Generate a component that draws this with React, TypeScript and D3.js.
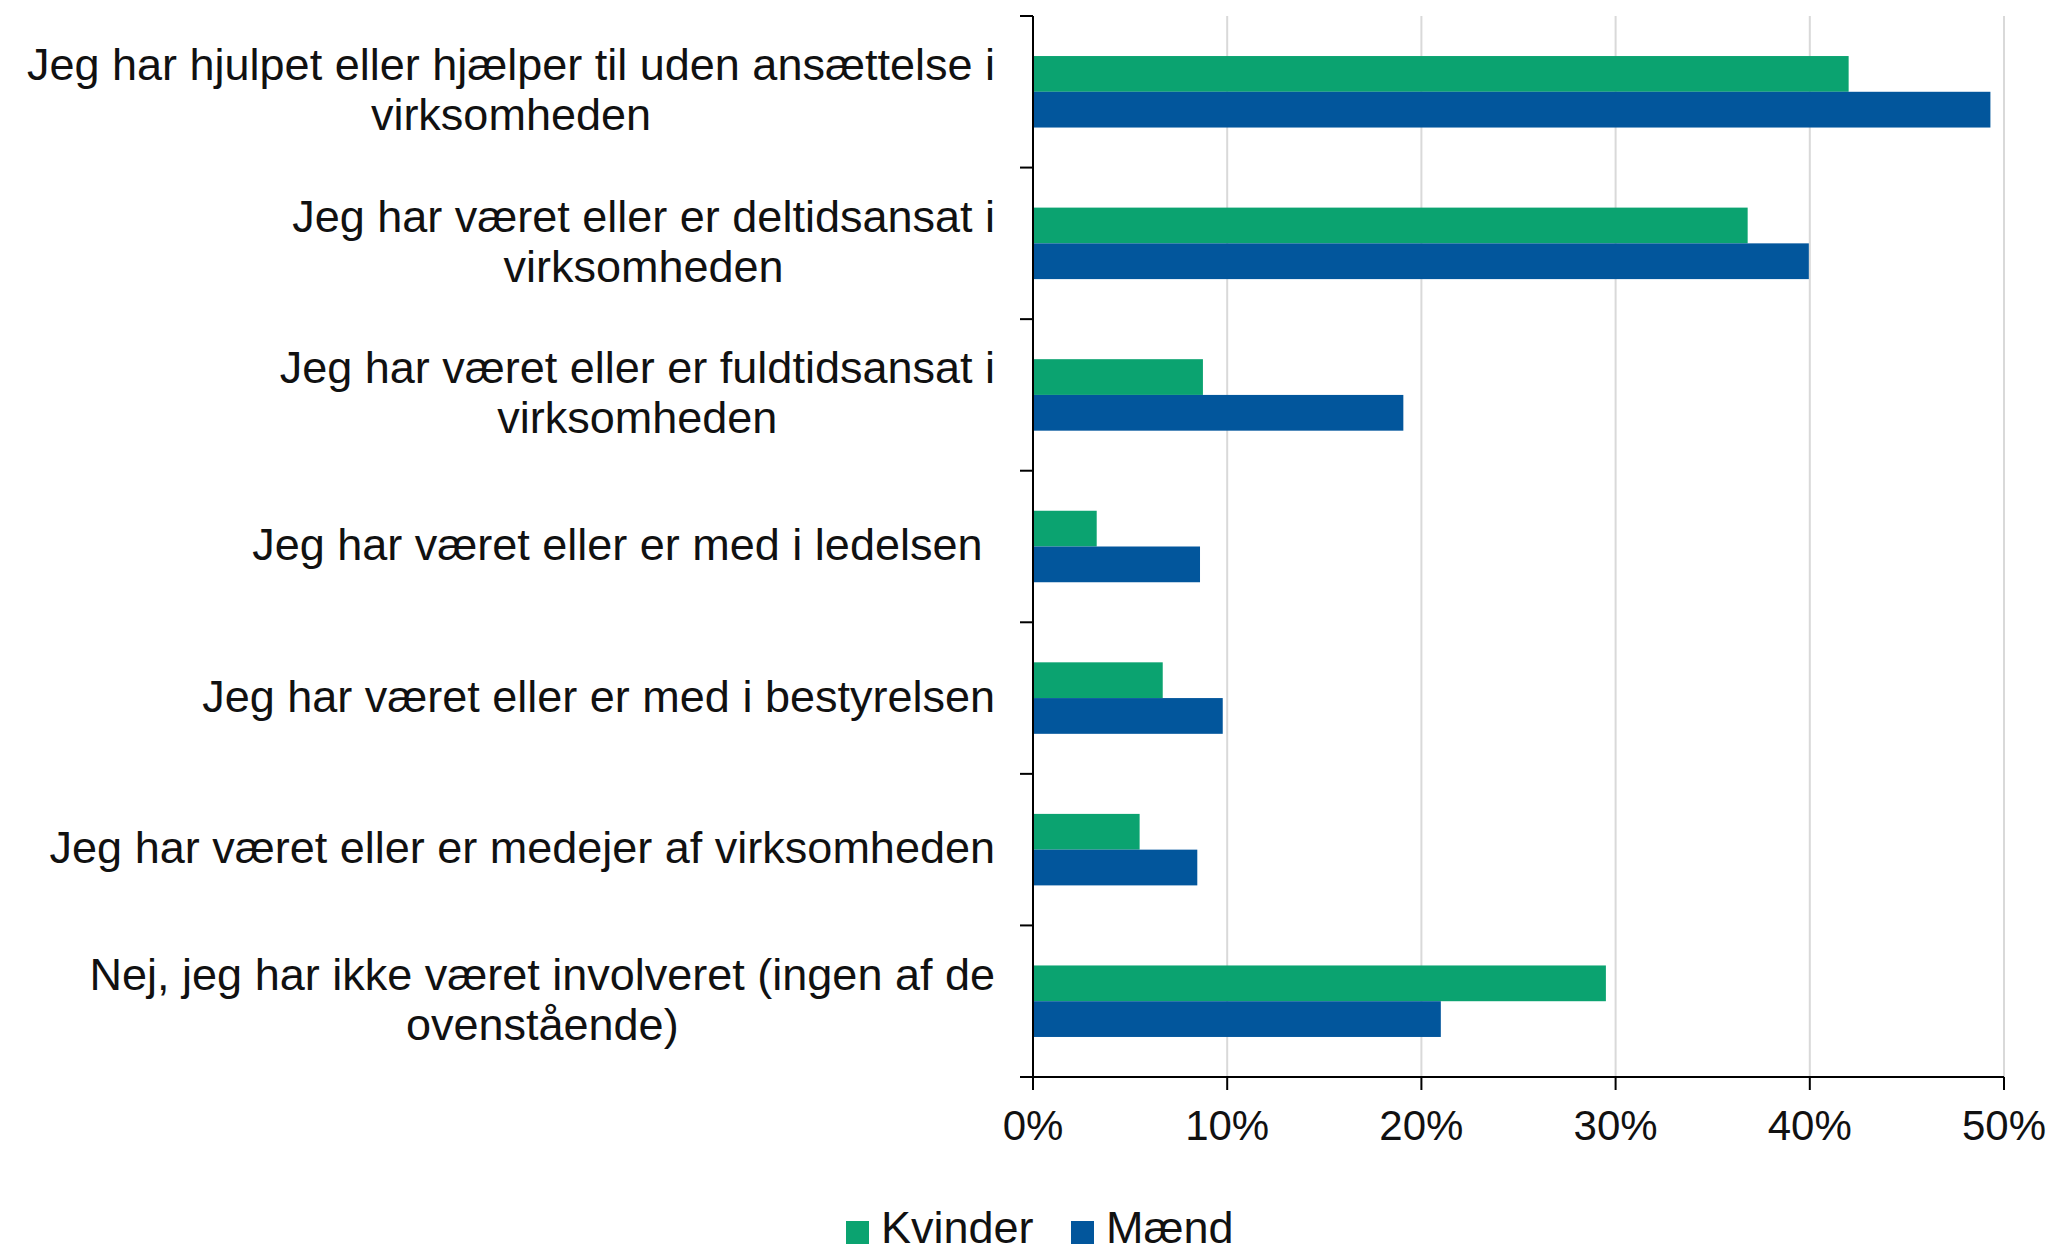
import React, { useEffect, useRef } from "react";
import * as d3 from "d3";

const categories: string[][] = [
  ["Jeg har hjulpet eller hjælper til uden ansættelse i", "virksomheden"],
  ["Jeg har været eller er deltidsansat i", "virksomheden"],
  ["Jeg har været eller er fuldtidsansat i", "virksomheden"],
  ["Jeg har været eller er med i ledelsen "],
  ["Jeg har været eller er med i bestyrelsen"],
  ["Jeg har været eller er medejer af virksomheden"],
  ["Nej, jeg har ikke været involveret (ingen af de", "ovenstående)"],
];
const kvinder: number[] = [42.0, 36.8, 8.75, 3.28, 6.68, 5.49, 29.5];
const maend: number[] = [49.3, 39.95, 19.07, 8.6, 9.77, 8.46, 21.0];
const seriesNames: string[] = ["Kvinder", "Mænd"];
const xTicks: number[] = [0, 10, 20, 30, 40, 50];

const W = 2052;
const H = 1247;
const COLORS = ["#0ba370", "#02569c"];
const FONT = "'Liberation Sans', Arial, sans-serif";

export default function App() {
  const ref = useRef<SVGSVGElement | null>(null);

  useEffect(() => {
    const svg = d3.select(ref.current);
    svg.selectAll("*").remove();

    const left = 1033;
    const right = 2004;
    const top = 16;
    const bottom = 1077;

    const x = d3.scaleLinear().domain([0, 50]).range([left, right]);
    const idx = categories.map((_, i) => String(i));
    const y0 = d3.scaleBand<string>().domain(idx).range([top, bottom]).paddingInner(0).paddingOuter(0);
    const y1 = d3
      .scaleBand<string>()
      .domain(seriesNames)
      .range([0, y0.bandwidth()])
      .paddingInner(0)
      .paddingOuter(1.12);

    // gridlines
    svg
      .append("g")
      .selectAll("line")
      .data(xTicks.filter((t) => t > 0))
      .join("line")
      .attr("x1", (d) => x(d))
      .attr("x2", (d) => x(d))
      .attr("y1", top)
      .attr("y2", bottom)
      .attr("stroke", "#d9d9d9")
      .attr("stroke-width", 2);

    // bars
    const data = categories.map((c, i) => ({ i: String(i), vals: [kvinder[i], maend[i]] }));
    const groups = svg
      .append("g")
      .selectAll("g")
      .data(data)
      .join("g")
      .attr("transform", (d) => `translate(0,${y0(d.i)})`);
    groups
      .selectAll("rect")
      .data((d) => d.vals.map((v, k) => ({ v, k })))
      .join("rect")
      .attr("x", x(0))
      .attr("y", (d) => y1(seriesNames[d.k]) as number)
      .attr("width", (d) => x(d.v) - x(0))
      .attr("height", y1.bandwidth())
      .attr("fill", (d) => COLORS[d.k]);

    // axes lines
    svg
      .append("line")
      .attr("x1", left)
      .attr("x2", left)
      .attr("y1", top)
      .attr("y2", bottom + 13)
      .attr("stroke", "#000")
      .attr("stroke-width", 2);
    svg
      .append("line")
      .attr("x1", left - 13)
      .attr("x2", right)
      .attr("y1", bottom)
      .attr("y2", bottom)
      .attr("stroke", "#000")
      .attr("stroke-width", 2);

    // category ticks
    const catTicks = idx.map((i) => y0(i) as number);
    svg
      .append("g")
      .selectAll("line")
      .data(catTicks)
      .join("line")
      .attr("x1", left - 13)
      .attr("x2", left)
      .attr("y1", (d) => d)
      .attr("y2", (d) => d)
      .attr("stroke", "#000")
      .attr("stroke-width", 2);

    // x ticks
    svg
      .append("g")
      .selectAll("line")
      .data(xTicks)
      .join("line")
      .attr("x1", (d) => x(d))
      .attr("x2", (d) => x(d))
      .attr("y1", bottom)
      .attr("y2", bottom + 13)
      .attr("stroke", "#000")
      .attr("stroke-width", 2);

    svg
      .append("g")
      .selectAll("text")
      .data(xTicks)
      .join("text")
      .attr("x", (d) => x(d))
      .attr("y", 1140)
      .attr("text-anchor", "middle")
      .attr("font-family", FONT)
      .attr("font-size", 42)
      .attr("fill", "#111")
      .text((d) => `${d}%`);

    // category labels
    const fs = 45;
    const lh = 50;
    const labelRight = 995;
    categories.forEach((lines, i) => {
      const cy = (y0(String(i)) as number) + y0.bandwidth() / 2;
      const g = svg.append("g");
      const texts = g
        .selectAll("text")
        .data(lines)
        .join("text")
        .attr("font-family", FONT)
        .attr("font-size", fs)
        .attr("fill", "#111")
        .style("white-space", "pre")
        .attr("text-anchor", "middle")
        .attr("y", (_, k) => cy + (k - (lines.length - 1) / 2) * lh + fs * 0.3)
        .text((d) => d);
      let maxW = 0;
      texts.each(function () {
        const w = (this as SVGTextElement).getComputedTextLength();
        if (w > maxW) maxW = w;
      });
      texts.attr("x", labelRight - maxW / 2);
    });

    // legend
    const legend = [
      { name: seriesNames[0], color: COLORS[0], x: 846 },
      { name: seriesNames[1], color: COLORS[1], x: 1071 },
    ];
    const lg = svg.append("g");
    legend.forEach((l) => {
      lg.append("rect").attr("x", l.x).attr("y", 1221).attr("width", 23).attr("height", 23).attr("fill", l.color);
      lg.append("text")
        .attr("x", l.x + 35)
        .attr("y", 1243)
        .attr("font-family", FONT)
        .attr("font-size", 45)
        .attr("fill", "#111")
        .text(l.name);
    });
  }, []);

  return (
    <svg
      ref={ref}
      width={W}
      height={H}
      style={{ position: "absolute", left: 0, top: 0, background: "#fff" }}
    />
  );
}
